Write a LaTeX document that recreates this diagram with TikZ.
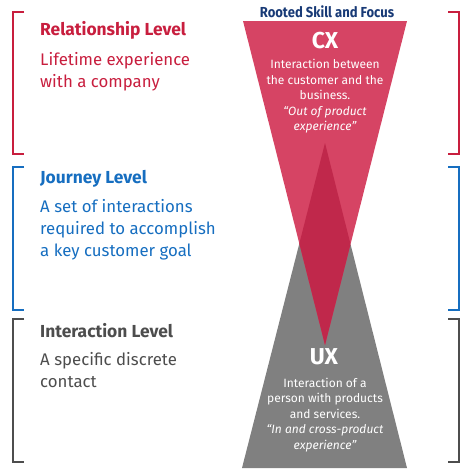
\documentclass[tikz,border=0pt]{standalone}
\usepackage{fontspec}
\setmainfont{Fira Sans}
\newfontfamily\condbold[FakeStretch=0.9]{Fira Sans Bold}
\definecolor{cxred}{RGB}{214,68,100}
\definecolor{cxdark}{RGB}{192,40,75}
\definecolor{uxgray}{RGB}{128,128,128}
\definecolor{txtred}{RGB}{200,30,62}
\definecolor{txtblue}{RGB}{22,110,192}
\definecolor{txtgray}{RGB}{77,77,77}
\definecolor{navy}{RGB}{24,58,118}
\begin{document}
\begin{tikzpicture}[x=1pt,y=-1pt,
  brk/.style={line width=1.4pt},
  head/.style={anchor=base west,inner sep=0pt,font=\fontsize{17.4}{22}\bfseries\selectfont},
  body/.style={anchor=base west,inner sep=0pt,font=\fontsize{16.8}{22}\selectfont},
  tri/.style={anchor=base,inner sep=0pt,text=white,font=\fontsize{12}{15.5}\selectfont},
  trii/.style={tri,font=\fontsize{12}{15.5}\itshape\selectfont},
  big/.style={anchor=base,inner sep=0pt,text=white,font=\fontsize{23}{23}\bfseries\selectfont}]
\useasboundingbox (0,0) rectangle (474,474);
% brackets left
\draw[brk,txtred] (24,12) -- (13,12) -- (13,154) -- (24,154);
\draw[brk,txtblue] (24,167) -- (13,167) -- (13,310) -- (24,310);
\draw[brk,txtgray] (24,319) -- (13,319) -- (13,462) -- (24,462);
% brackets right
\draw[brk,txtred] (448,12) -- (459,12) -- (459,154) -- (448,154);
\draw[brk,txtblue] (448,167) -- (459,167) -- (459,310) -- (448,310);
\draw[brk,txtgray] (448,319) -- (459,319) -- (459,462) -- (448,462);
% triangles
\fill[uxgray] (325,143) -- (407,468) -- (242,468) -- cycle;
\fill[cxred] (243,21) -- (407,21) -- (325,345) -- cycle;
\begin{scope}
\clip (325,143) -- (407,468) -- (242,468) -- cycle;
\fill[cxdark] (243,21) -- (407,21) -- (325,345) -- cycle;
\end{scope}
% title
\node[anchor=base,inner sep=0pt,text=navy,font=\fontsize{14.5}{14.5}\condbold] (title) at (327,17) {Rooted Skill and Focus};
% left texts
\node[head,text=txtred] (rl) at (40,35) {Relationship Level};
\node[body,text=txtred] (rl1) at (40,65) {Lifetime experience};
\node[body,text=txtred] (rl2) at (40,87) {with a company};
\node[head,text=txtblue] (jl) at (40,183) {Journey Level};
\node[body,text=txtblue] (jl1) at (40,212) {A set of interactions};
\node[body,text=txtblue] (jl2) at (40,234) {required to accomplish};
\node[body,text=txtblue] (jl3) at (40,256) {a key customer goal};
\node[head,text=txtgray] (il) at (40,337) {Interaction Level};
\node[body,text=txtgray] (il1) at (40,365) {A specific discrete};
\node[body,text=txtgray] (il2) at (40,387) {contact};
% CX
\node[big] (cx) at (325,48) {CX};
\node[tri] (cx1) at (325,68) {Interaction between};
\node[tri] (cx2) at (325,84) {the customer and the};
\node[tri] (cx3) at (325,99) {business.};
\node[trii] (cx4) at (325,115) {“Out of product};
\node[trii] (cx5) at (325,130) {experience”};
% UX
\node[big] (ux) at (324,364) {UX};
\node[tri] (ux1) at (325,387) {Interaction of a};
\node[tri] (ux2) at (325,402) {person with products};
\node[tri] (ux3) at (325,418) {and services.};
\node[trii] (ux4) at (325,433) {“In and cross-product};
\node[trii] (ux5) at (325,449) {experience”};
\end{tikzpicture}
\end{document}
